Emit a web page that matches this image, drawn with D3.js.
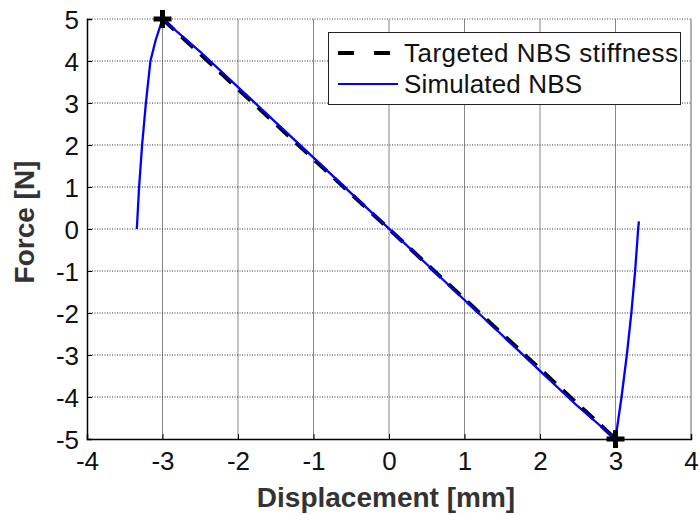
<!DOCTYPE html>
<html>
<head>
<meta charset="utf-8">
<script src="https://cdnjs.cloudflare.com/ajax/libs/d3/7.8.5/d3.min.js"></script>
<style>
  body { margin: 0; background: #fff; }
  svg { display: block; font-family: Arial, "Liberation Sans", sans-serif; }
</style>
</head>
<body>
<div id="chart"></div>
<script>
// Data
const xTicks = [-4, -3, -2, -1, 0, 1, 2, 3, 4]
const yTicks = [-5, -4, -3, -2, -1, 0, 1, 2, 3, 4, 5]

// targeted stiffness: straight line between the two markers
const targetX = [-3, 3]
const targetY = [5, -5]

// simulated curve
const simX = [-3.34, -3.31, -3.27, -3.22, -3.16, -3.09, -3.0, -2.5, -2.0, -1.5, -1.0, -0.5, 0.0, 0.5, 1.0, 1.5, 2.0, 2.5, 3.0, 3.08, 3.15, 3.21, 3.26, 3.30, 3.31]
const simY = [0.0, 1.0, 2.0, 3.0, 4.0, 4.5, 5.0, 4.22, 3.38, 2.54, 1.70, 0.85, 0.01, -0.84, -1.69, -2.53, -3.38, -4.22, -5.0, -4.0, -3.0, -2.0, -1.0, 0.0, 0.18]

const markerX = [-3, 3]
const markerY = [5, -5]

const legendLabels = ["Targeted NBS stiffness", "Simulated NBS"]

// layout
let w = 700, h = 515
let m = { left: 87, right: 9, top: 19, bottom: 76 }

let svg = d3.select("#chart").append("svg").attr("width", w).attr("height", h)

let x = d3.scaleLinear().domain([-4, 4]).range([m.left, w - m.right])
let y = d3.scaleLinear().domain([-5, 5]).range([h - m.bottom, m.top])

// grid
svg.append("g").selectAll("line")
    .data(xTicks.slice(1, -1))
    .enter().append("line")
    .attr("x1", d => x(d)).attr("x2", d => x(d))
    .attr("y1", y(5)).attr("y2", y(-5))
    .attr("stroke", "#888").attr("stroke-width", 1)

svg.append("g").selectAll("line")
    .data(yTicks.slice(1, -1))
    .enter().append("line")
    .attr("x1", x(-4)).attr("x2", x(4))
    .attr("y1", d => y(d)).attr("y2", d => y(d))
    .attr("stroke", "#333").attr("stroke-width", 1)
    .attr("stroke-dasharray", "1,1.5")

// top / right frame (grey)
svg.append("line").attr("x1", x(-4)).attr("x2", x(4)).attr("y1", y(5)).attr("y2", y(5))
    .attr("stroke", "#444").attr("stroke-dasharray", "1,1.5")
svg.append("line").attr("x1", x(4)).attr("x2", x(4)).attr("y1", y(5)).attr("y2", y(-5))
    .attr("stroke", "#666")

// axes
const xAxis = d3.axisBottom(x).tickValues(xTicks).tickSize(-5).tickPadding(10).tickFormat(d => String(d))
const yAxis = d3.axisLeft(y).tickValues(yTicks).tickSize(-5).tickPadding(8).tickFormat(d => String(d))

let gx = svg.append("g").attr("transform", "translate(0," + y(-5) + ")").call(xAxis)
let gy = svg.append("g").attr("transform", "translate(" + x(-4) + ",0)").call(yAxis)

;[gx, gy].forEach(g => {
    g.select(".domain").attr("stroke", "#000").attr("stroke-width", 1.5)
    g.selectAll(".tick line").attr("stroke", "#000")
    g.selectAll("text").attr("font-size", 26).attr("fill", "#111")
        .attr("font-family", "Arial, 'Liberation Sans', sans-serif")
})
gx.selectAll("text").attr("y", 31).attr("dy", 0)
gy.selectAll("text").attr("dy", "0.36em")

// axis labels
svg.append("text")
    .attr("x", 386).attr("y", 507)
    .attr("text-anchor", "middle")
    .attr("font-size", 28).attr("font-weight", "bold").attr("fill", "#333")
    .text("Displacement [mm]")

svg.append("text")
    .attr("transform", "translate(34,222) rotate(-90)")
    .attr("text-anchor", "middle")
    .attr("font-size", 28).attr("font-weight", "bold").attr("fill", "#333")
    .text("Force [N]")

// lines
let line = d3.line().x(d => x(d[0])).y(d => y(d[1]))

svg.append("path")
    .datum(targetX.map((d, i) => [d, targetY[i]]))
    .attr("d", line)
    .attr("fill", "none").attr("stroke", "#000")
    .attr("stroke-width", 4).attr("stroke-dasharray", "16,10")

svg.append("path")
    .datum(simX.map((d, i) => [d, simY[i]]))
    .attr("d", line)
    .attr("fill", "none").attr("stroke", "#0000ff")
    .attr("stroke-width", 2.3).attr("stroke-linejoin", "round")

// markers
svg.append("g").selectAll("path")
    .data(markerX.map((d, i) => [d, markerY[i]]))
    .enter().append("path")
    .attr("transform", d => "translate(" + x(d[0]) + "," + y(d[1]) + ")")
    .attr("d", "M-9,0H9M0,-9V9")
    .attr("stroke", "#000").attr("stroke-width", 5)

// legend
let lg = svg.append("g")
lg.append("rect")
    .attr("x", 328.5).attr("y", 32.5).attr("width", 352).attr("height", 72)
    .attr("fill", "#fff").attr("stroke", "#222").attr("stroke-width", 1)

lg.append("line").attr("x1", 338).attr("x2", 398).attr("y1", 53).attr("y2", 53)
    .attr("stroke", "#000").attr("stroke-width", 4).attr("stroke-dasharray", "16,20")
lg.append("line").attr("x1", 338).attr("x2", 398).attr("y1", 84).attr("y2", 84)
    .attr("stroke", "#0000ff").attr("stroke-width", 2)

lg.selectAll("text.lab")
    .data(legendLabels)
    .enter().append("text")
    .attr("class", "lab")
    .attr("x", 404).attr("y", (d, i) => 62 + i * 31)
    .attr("font-size", 26).attr("fill", "#111")
    .attr("textLength", (d, i) => i === 0 ? 274 : 178)
    .text(d => d)
</script>
</body>
</html>
